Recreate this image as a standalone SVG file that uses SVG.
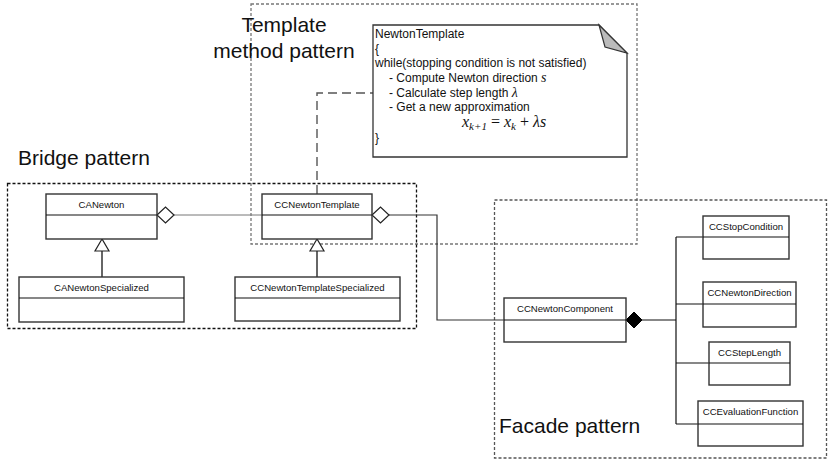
<svg xmlns="http://www.w3.org/2000/svg" width="830" height="464" viewBox="0 0 830 464">
<style>
.frame{fill:none;stroke-width:1.3;stroke-dasharray:3,2}
.title{font-family:"Liberation Sans",Arial,sans-serif;font-size:21px;fill:#111}
.cls rect{fill:#fff;stroke:#333;stroke-width:1.4}
.cls line{stroke:#111;stroke-width:1.2}
.cls text{font-family:"Liberation Sans",Arial,sans-serif;font-size:9.6px;fill:#111;text-anchor:middle}
.note text{font-family:"Liberation Sans",Arial,sans-serif;font-size:12px;fill:#111}
.note .math{font-family:"Liberation Serif","Times New Roman",serif;font-style:italic;font-size:14px}
.note text.formula{font-size:16px}
.note .sub{font-size:11px}
.note .op{font-style:normal}
.conn{fill:none}
</style>
<rect width="830" height="464" fill="#fff"/>

<g id="template-frame">
<rect class="frame" x="251" y="4" width="386" height="240" stroke="#777"/>
<text class="title" x="284" y="32" text-anchor="middle">Template</text>
<text class="title" x="284" y="58" text-anchor="middle">method pattern</text>
</g>
<g id="bridge-frame">
<rect class="frame" x="7.5" y="183.5" width="409" height="145" stroke="#111"/>
<text class="title" x="18" y="165">Bridge pattern</text>
</g>
<g id="facade-frame">
<rect class="frame" x="494.5" y="200" width="332" height="258" stroke="#555"/>
<text class="title" x="499" y="433">Facade pattern</text>
</g>

<g id="connectors" class="conn">
<line x1="174" y1="215" x2="262" y2="215" stroke="#777" stroke-width="1"/>
<path d="M389,215 H437 V320 H504" stroke="#333" stroke-width="1.2"/>
<path d="M642,320 H676 M676,237 V424 M676,237 H703 M676,304 H703 M676,363 H709 M676,424 H698" stroke="#111" stroke-width="1.2"/>
<line x1="102" y1="251" x2="102" y2="277" stroke="#666" stroke-width="2"/>
<line x1="317" y1="251" x2="317" y2="277" stroke="#666" stroke-width="2"/>
<path d="M317,194 V93 H373" stroke="#555" stroke-width="1.4" stroke-dasharray="9,5"/>
<polygon points="157,215 165.5,207 174,215 165.5,223" fill="#fff" stroke="#222" stroke-width="1.2"/>
<polygon points="372,215 380.5,207 389,215 380.5,223" fill="#fff" stroke="#222" stroke-width="1.2"/>
<polygon points="626,320 634,312 642,320 634,328" fill="#000" stroke="#000" stroke-width="1"/>
<polygon points="102,239 95,251 109,251" fill="#fff" stroke="#222" stroke-width="1.2"/>
<polygon points="317,239 310,251 324,251" fill="#fff" stroke="#222" stroke-width="1.2"/>
</g>

<g id="note" class="note">
<path d="M373,25 H599 L627,53 V157 H373 Z" fill="#fff" stroke="#333" stroke-width="1.3"/>
<polygon points="599,25 605,47 627,53" fill="#bbb" stroke="#333" stroke-width="1.2"/>
<text x="375" y="38">NewtonTemplate</text>
<text x="375" y="53">{</text>
<text x="375" y="67">while(stopping condition is not satisfied)</text>
<text x="389" y="82">- Compute Newton direction <tspan class="math">s</tspan></text>
<text x="389" y="97">- Calculate step length <tspan class="math">λ</tspan></text>
<text x="389" y="111">- Get a new approximation</text>
<text x="462" y="127" class="math formula">x<tspan class="sub" dy="3">k+1</tspan><tspan class="op" dy="-3"> = </tspan>x<tspan class="sub" dy="3">k</tspan><tspan class="op" dy="-3"> + </tspan>λs</text>
<text x="375" y="142">}</text>
</g>

<g id="CANewton" class="cls"><rect x="46" y="194" width="111" height="45"/><line x1="46" y1="215" x2="157" y2="215"/><text x="101.5" y="208">CANewton</text></g>
<g id="CANewtonSpecialized" class="cls"><rect x="19" y="277" width="165" height="45"/><line x1="19" y1="298" x2="184" y2="298"/><text x="101.5" y="291">CANewtonSpecialized</text></g>
<g id="CCNewtonTemplate" class="cls"><rect x="262" y="194" width="110" height="45"/><line x1="262" y1="215" x2="372" y2="215"/><text x="317" y="208">CCNewtonTemplate</text></g>
<g id="CCNewtonTemplateSpecialized" class="cls"><rect x="235" y="277" width="165" height="44"/><line x1="235" y1="298" x2="400" y2="298"/><text x="317.5" y="291">CCNewtonTemplateSpecialized</text></g>
<g id="CCNewtonComponent" class="cls"><rect x="504" y="298" width="122" height="44"/><line x1="504" y1="320" x2="626" y2="320"/><text x="565" y="312">CCNewtonComponent</text></g>
<g id="CCStopCondition" class="cls"><rect x="703" y="216" width="86" height="43"/><line x1="703" y1="237" x2="789" y2="237"/><text x="746" y="230">CCStopCondition</text></g>
<g id="CCNewtonDirection" class="cls"><rect x="703" y="282" width="93" height="45"/><line x1="703" y1="304" x2="796" y2="304"/><text x="749.5" y="296">CCNewtonDirection</text></g>
<g id="CCStepLength" class="cls"><rect x="709" y="342" width="81" height="43"/><line x1="709" y1="363" x2="790" y2="363"/><text x="749.5" y="356">CCStepLength</text></g>
<g id="CCEvaluationFunction" class="cls"><rect x="698" y="401" width="105" height="45"/><line x1="698" y1="424" x2="803" y2="424"/><text x="750.5" y="415">CCEvaluationFunction</text></g>
</svg>
